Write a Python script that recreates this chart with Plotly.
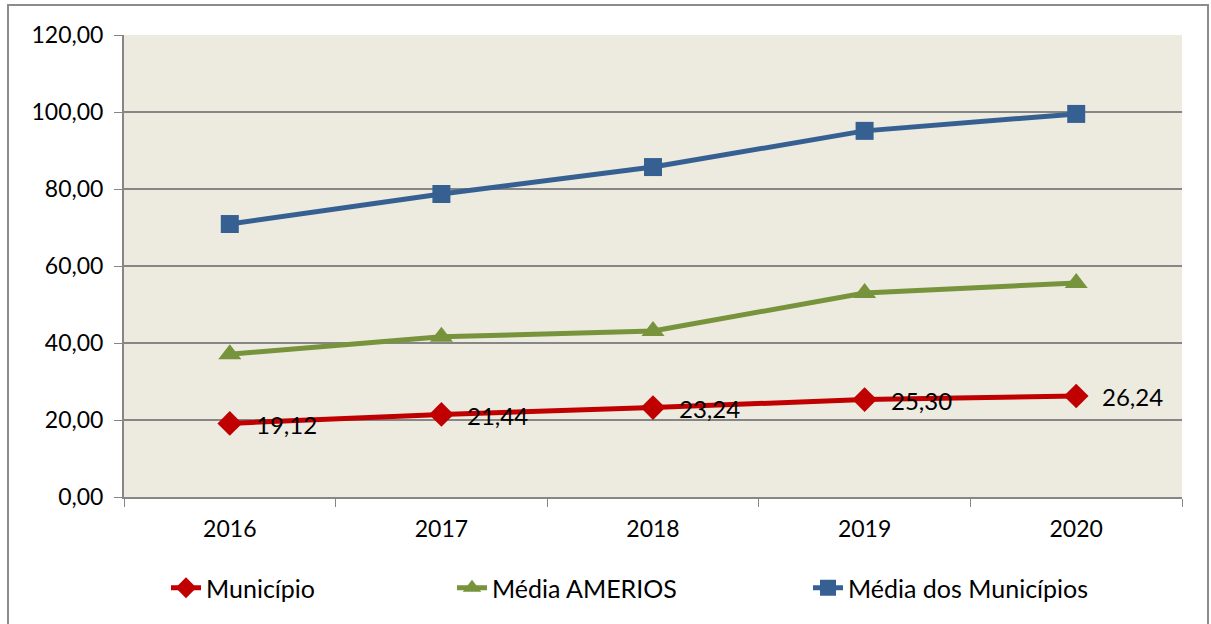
import plotly.graph_objects as go

years = ["2016", "2017", "2018", "2019", "2020"]
municipio = [19.12, 21.44, 23.24, 25.30, 26.24]
media_amerios = [37.1, 41.6, 43.1, 53.0, 55.6]
media_municipios = [70.9, 78.7, 85.7, 95.1, 99.5]

FONT = "Lato, sans-serif"
FS_TICK = 23
FS_LEG = 25
FS_LAB = 24
L, R, T, B = 124, 29, 35, 127
W, H = 1211, 624
PW, PH = W - L - R, H - T - B

fig = go.Figure()
fig.add_trace(go.Scatter(x=years, y=municipio, name="Município", mode="lines+markers",
                         line=dict(color="#C00000", width=5),
                         marker=dict(symbol="diamond", size=19, color="#C00000"),
                         legend="legend"))
fig.add_trace(go.Scatter(x=years, y=media_amerios, name="Média AMERIOS", mode="lines+markers",
                         line=dict(color="#77933C", width=5),
                         marker=dict(symbol="triangle-up", size=20, color="#77933C"),
                         legend="legend2"))
fig.add_trace(go.Scatter(x=years, y=media_municipios, name="Média dos Municípios", mode="lines+markers",
                         line=dict(color="#376092", width=5),
                         marker=dict(symbol="square", size=18, color="#376092"),
                         legend="legend3"))

for i, v in enumerate(municipio):
    fig.add_annotation(x=i, y=v, text=f"{v:.2f}".replace(".", ","), showarrow=False,
                       xanchor="left", yanchor="middle", xshift=24, yshift=-1,
                       font=dict(family=FONT, size=FS_LAB, color="black"))

def lx(px):
    return (px - L) / PW

def ly(py):
    return (H - B - py) / PH

leg_common = dict(orientation="h", yanchor="middle", xanchor="left", y=ly(588),
                  font=dict(family=FONT, size=FS_LEG, color="black"), bgcolor="rgba(0,0,0,0)",
                  itemwidth=30)
fig.update_layout(
    width=W, height=H,
    margin=dict(l=L, r=R, t=T, b=B),
    paper_bgcolor="white", plot_bgcolor="#EDEAE0",
    separators=",.",
    showlegend=True,
    font=dict(family=FONT, size=FS_TICK, color="black"),
    legend=dict(x=lx(166), **leg_common),
    legend2=dict(x=lx(452), **leg_common),
    legend3=dict(x=lx(808), **leg_common),
    xaxis=dict(type="category", showgrid=False, showline=True, linecolor="#868686", linewidth=2,
               ticks="outside", tickson="boundaries", ticklen=8, tickcolor="#868686", tickwidth=1,
               ticklabelstandoff=10,
               tickfont=dict(family=FONT, size=FS_TICK, color="black"), range=[-0.5, 4.5]),
    yaxis=dict(range=[0, 120], dtick=20, tickformat=".2f", showgrid=True, gridcolor="#868686",
               gridwidth=2, showline=True, linecolor="#868686", linewidth=2, ticks="outside",
               ticklen=8, tickcolor="#868686", tickwidth=1, zeroline=False,
               ticklabelstandoff=6,
               tickfont=dict(family=FONT, size=FS_TICK, color="black")),
    shapes=[dict(type="rect", xref="paper", yref="paper",
                 x0=lx(8), x1=lx(1208), y0=ly(640), y1=ly(5),
                 line=dict(color="#8C8C8C", width=2), layer="below")],
)
fig.write_html("out.html", config={"displayModeBar": False},
               post_script="document.body.style.margin='0';")
